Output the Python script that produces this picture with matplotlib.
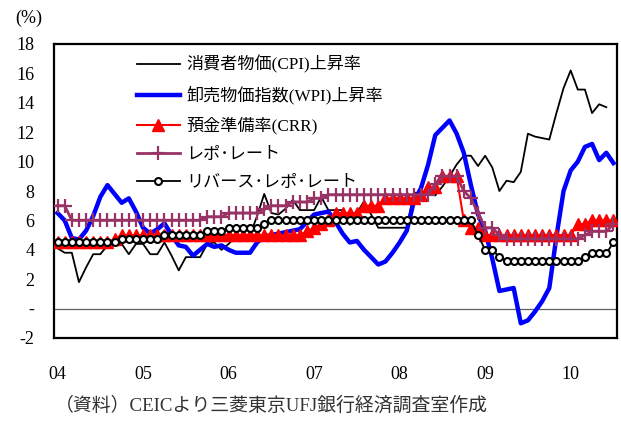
import numpy as np
import matplotlib
matplotlib.use("Agg")
import matplotlib.pyplot as plt

plt.rcParams['font.family'] = ['Liberation Serif', 'Noto Sans CJK JP']

# monthly, Jan 2004 .. Jul 2010
years = ['04', '05', '06', '07', '08', '09', '10']

cpi = [4.1, 3.8, 3.8, 1.8, 2.8, 3.7, 3.7, 4.3, 4.5, 4.4, 3.7, 4.4,
       4.4, 3.7, 3.7, 4.5, 3.6, 2.6, 3.5, 3.5, 3.5, 4.4, 4.5, 4.0,
       4.4, 4.9, 4.9, 5.0, 6.3, 7.8, 6.5, 6.4, 6.8, 7.4, 6.7, 6.7,
       6.7, 7.6, 6.7, 6.7, 6.7, 5.7, 6.5, 7.3, 6.4, 5.5, 5.5, 5.5,
       5.5, 5.5, 7.9, 7.8, 7.8, 7.7, 8.3, 9.0, 9.8, 10.4, 10.4, 9.7,
       10.4, 9.6, 8.0, 8.7, 8.6, 9.3, 11.9, 11.7, 11.6, 11.5, 13.3, 15.0,
       16.2, 14.9, 14.9, 13.3, 13.9, 13.7, np.nan]

wpi = [6.5, 6.0, 4.8, 4.7, 5.3, 6.3, 7.6, 8.4, 7.8, 7.2, 7.5, 6.6,
       5.5, 5.1, 5.4, 5.8, 5.0, 4.3, 4.2, 3.6, 4.0, 4.4, 4.2, 4.3,
       4.0, 3.8, 3.8, 3.8, 4.5, 4.9, 5.0, 5.1, 5.2, 5.3, 5.4, 5.9,
       6.4, 6.5, 6.6, 5.9, 5.1, 4.5, 4.6, 4.0, 3.5, 3.0, 3.2, 3.8,
       4.5, 5.3, 7.3, 8.2, 9.8, 11.8, 12.3, 12.8, 11.9, 10.6, 8.4, 6.4,
       5.3, 3.4, 1.2, 1.3, 1.4, -1.0, -0.8, -0.2, 0.5, 1.4, 4.9, 8.0,
       9.4, 10.0, 11.0, 11.2, 10.1, 10.6, 9.9]

crr = ([4.5] * 8 + [4.75] + [5.0] * 26 + [5.25, 5.5, 5.75, 6.0] + [6.5] * 4
       + [7.0] * 3 + [7.5] * 5 + [7.75] + [8.25] * 2 + [9.0] * 3 + [6.0]
       + [5.5] * 2 + [5.0] * 13 + [5.75] * 2 + [6.0] * 4)

repo = ([7.0] * 2 + [6.0] * 19 + [6.25] * 3 + [6.5] * 5 + [6.75] + [7.0] * 3
        + [7.25] * 3 + [7.5] * 2 + [7.75] * 15 + [8.5] + [9.0] * 3 + [8.0]
        + [7.5] + [6.5] + [5.5] * 2 + [5.0] + [4.75] * 11 + [5.0]
        + [5.25] * 3 + [5.75])

rev_repo = ([4.5] * 9 + [4.75] * 6 + [5.0] * 6 + [5.25] * 3 + [5.5] * 5
            + [5.75] + [6.0] * 29 + [5.0] + [4.0] * 2 + [3.5] + [3.25] * 11
            + [3.5] + [3.75] * 3 + [4.5])

labels = ['消費者物価(CPI)上昇率', '卸売物価指数(WPI)上昇率', '預金準備率(CRR)',
          'レポ･レート', 'リバース･レポ･レート']

x = np.arange(len(wpi))
W, H = 621, 424
fig = plt.figure(figsize=(W / 100, H / 100), dpi=100)
ax = fig.add_axes([54 / W, 86 / H, 563 / W, 294 / H])

purple = '#993366'
ax.axhline(0, color='#606060', lw=0.9, zorder=1)
ax.plot(x, cpi, color='black', lw=1.3, label=labels[0], zorder=2)
ax.plot(x, wpi, color='#0000ff', lw=3.2, label=labels[1], zorder=3)
ax.plot(x, crr, color='#ff0000', lw=1.5, marker='^', ms=8, mec='#ff0000',
        mfc='#ff0000', label=labels[2], zorder=4)
ax.plot(x, repo, color=purple, lw=2.0, marker='+', ms=10, mew=1.6,
        label=labels[3], zorder=5)
ax.plot(x, rev_repo, color='black', lw=1.3, marker='o', ms=5, mew=1.5,
        mfc='white', mec='black', label=labels[4], zorder=6)

ax.set_xlim(-0.5, len(x) - 0.5)
ax.set_ylim(-2, 18)
ax.set_yticks(range(-2, 19, 2))
ax.set_yticklabels(['-' if v == 0 else str(v) for v in range(-2, 19, 2)])
ax.set_xticks(range(0, len(x), 12))
ax.set_xticklabels(years)
ax.tick_params(axis='y', length=0, pad=14, labelsize=13)
ax.tick_params(axis='x', length=0, pad=20, labelsize=13)
for s in ax.spines.values():
    s.set_linewidth(1.6)

leg = ax.legend(loc='upper left', bbox_to_anchor=(128 / W, 1 - 47 / H),
                bbox_transform=fig.transFigure, frameon=False, fontsize=12.3,
                handlelength=2.55, handletextpad=0.35, labelspacing=0.72,
                borderpad=0)

fig.text(29 / W, 1 - 18 / H, '(%)', ha='center', va='center', fontsize=13)
fig.text(55 / W, 1 - 406 / H, '（資料）CEICより三菱東京UFJ銀行経済調査室作成',
         ha='left', va='center', fontsize=13.6, color='#333333')

fig.savefig('out.png', dpi=100)
